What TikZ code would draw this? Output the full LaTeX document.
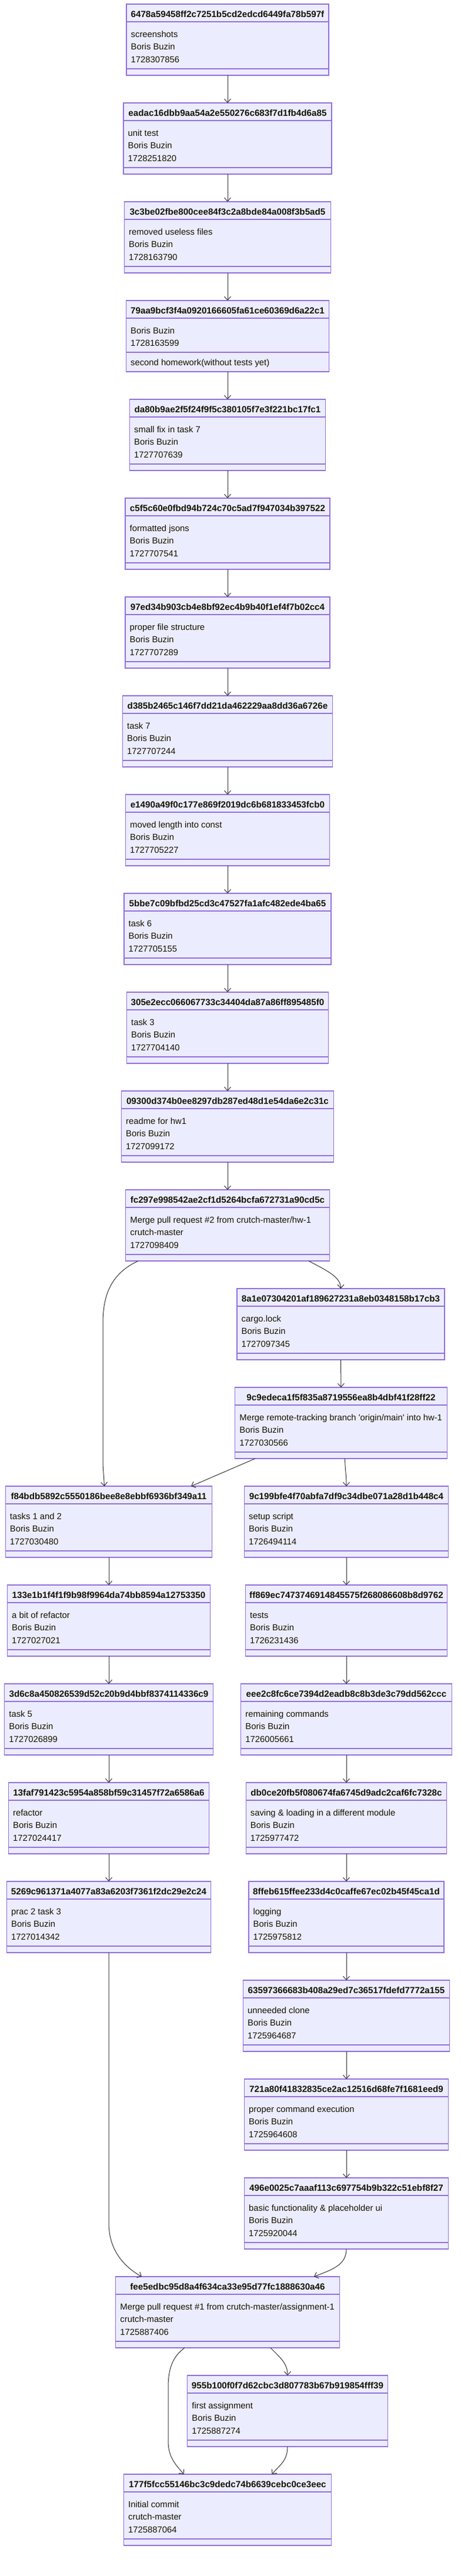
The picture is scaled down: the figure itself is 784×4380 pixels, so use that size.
\documentclass[tikz,border=0pt]{standalone}
\usepackage{fontspec}
\setmainfont{Liberation Sans}
\usetikzlibrary{arrows.meta,calc}
\definecolor{boxfill}{HTML}{ECECFF}
\definecolor{boxline}{HTML}{9370DB}
\definecolor{edgecol}{HTML}{333333}
\definecolor{txtcol}{HTML}{131300}
\tikzset{
  cbox/.style={rectangle, draw=boxline, fill=boxfill, line width=1.2pt, minimum height=121pt, inner sep=0pt, outer sep=0pt},
  cdiv/.style={draw=boxline, line width=1.2pt},
  ctitle/.style={anchor=base, inner sep=0pt, text=txtcol, font=\fontsize{15.2}{18}\selectfont\bfseries},
  cline/.style={anchor=base west, inner sep=0pt, text=txtcol, font=\fontsize{14.8}{18}\selectfont},
  edge/.style={draw=edgecol, line width=1pt, -{Straight Barb[length=6pt,width=11pt]}},
}
% name, center x, rank, width, title, line1, line2, line3
\newcommand{\commitbox}[8]{%
  \node[cbox, minimum width=#4pt] (#1) at ({#2},{67.5+168*#3}) {};
  \draw[cdiv] ([yshift=-30pt]#1.north west) -- ([yshift=-30pt]#1.north east);
  \draw[cdiv] ([yshift=-110pt]#1.north west) -- ([yshift=-110pt]#1.north east);
  \node[ctitle] (#1-t) at ([yshift=-22pt]#1.north) {#5};
  \node[cline] (#1-a) at ([xshift=7.5pt,yshift=-56pt]#1.north west) {#6};
  \node[cline] (#1-b) at ([xshift=7.5pt,yshift=-77.7pt]#1.north west) {#7};
  \node[cline] (#1-c) at ([xshift=7.5pt,yshift=-99.4pt]#1.north west) {#8};
}
% variant with a method compartment
\newcommand{\commitboxm}[8]{%
  \node[cbox, minimum width=#4pt] (#1) at ({#2},{67.5+168*#3}) {};
  \draw[cdiv] ([yshift=-30pt]#1.north west) -- ([yshift=-30pt]#1.north east);
  \draw[cdiv] ([yshift=-88pt]#1.north west) -- ([yshift=-88pt]#1.north east);
  \node[ctitle] (#1-t) at ([yshift=-22pt]#1.north) {#5};
  \node[cline] (#1-a) at ([xshift=7.5pt,yshift=-56pt]#1.north west) {#6};
  \node[cline] (#1-b) at ([xshift=7.5pt,yshift=-77.4pt]#1.north west) {#7};
  \node[cline] (#1-c) at ([xshift=7.5pt,yshift=-110.7pt]#1.north west) {#8};
}
\begin{document}
\begin{tikzpicture}[x=1pt,y=-1pt]
\useasboundingbox[fill=white] (0,0) rectangle (784,4380);

\commitbox{c6478}{387}{0}{344}{6478a59458ff2c7251b5cd2edcd6449fa78b597f}{screenshots}{Boris Buzin}{1728307856}
\commitbox{ceada}{387}{1}{354}{eadac16dbb9aa54a2e550276c683f7d1fb4d6a85}{unit test}{Boris Buzin}{1728251820}
\commitbox{c3c3b}{387}{2}{351}{3c3be02fbe800cee84f3c2a8bde84a008f3b5ad5}{removed useless files}{Boris Buzin}{1728163790}
\commitboxm{c79aa}{387}{3}{345}{79aa9bcf3f4a0920166605fa61ce60369d6a22c1}{Boris Buzin}{1728163599}{second homework(without tests yet)}
\commitbox{cda80}{387}{4}{333}{da80b9ae2f5f24f9f5c380105f7e3f221bc17fc1}{small fix in task 7}{Boris Buzin}{1727707639}
\commitbox{cc5f5}{387}{5}{348}{c5f5c60e0fbd94b724c70c5ad7f947034b397522}{formatted jsons}{Boris Buzin}{1727707541}
\commitbox{c97ed}{387}{6}{348}{97ed34b903cb4e8bf92ec4b9b40f1ef4f7b02cc4}{proper file structure}{Boris Buzin}{1727707289}
\commitbox{cd385}{387}{7}{357}{d385b2465c146f7dd21da462229aa8dd36a6726e}{task 7}{Boris Buzin}{1727707244}
\commitbox{ce149}{387}{8}{347}{e1490a49f0c177e869f2019dc6b681833453fcb0}{moved length into const}{Boris Buzin}{1727705227}
\commitbox{c5bbe}{387}{9}{352}{5bbe7c09bfbd25cd3c47527fa1afc482ede4ba65}{task 6}{Boris Buzin}{1727705155}
\commitbox{c305e}{387}{10}{343}{305e2ecc066067733c34404da87a86ff895485f0}{task 3}{Boris Buzin}{1727704140}
\commitbox{c0930}{387}{11}{361}{09300d374b0ee8297db287ed48d1e54da6e2c31c}{readme for hw1}{Boris Buzin}{1727099172}
\commitbox{cfc29}{387}{12}{346.5}{fc297e998542ae2cf1d5264bcfa672731a90cd5c}{Merge pull request \#2 from crutch-master/hw-1}{crutch-master}{1727098409}
\commitbox{c8a1e}{579.5}{13}{353}{8a1e07304201af189627231a8eb0348158b17cb3}{cargo.lock}{Boris Buzin}{1727097345}
\commitbox{c9c9e}{580}{14}{360.5}{9c9edeca1f5f835a8719556ea8b4dbf41f28ff22}{Merge remote-tracking branch \textquotesingle origin/main\textquotesingle{} into hw-1}{Boris Buzin}{1727030566}
\commitbox{cf84b}{185}{15}{351.5}{f84bdb5892c5550186bee8e8ebbf6936bf349a11}{tasks 1 and 2}{Boris Buzin}{1727030480}
\commitbox{c9c19}{589}{15}{347}{9c199bfe4f70abfa7df9c34dbe071a28d1b448c4}{setup script}{Boris Buzin}{1726494114}
\commitbox{c133e}{185}{16}{345}{133e1b1f4f1f9b98f9964da74bb8594a12753350}{a bit of refactor}{Boris Buzin}{1727027021}
\commitbox{cff86}{589}{16}{343}{ff869ec7473746914845575f268086608b8d9762}{tests}{Boris Buzin}{1726231436}
\commitbox{c3d6c}{185}{17}{354.5}{3d6c8a450826539d52c20b9d4bbf8374114336c9}{task 5}{Boris Buzin}{1727026899}
\commitbox{ceee2}{589}{17}{358.5}{eee2c8fc6ce7394d2eadb8c8b3de3c79dd562ccc}{remaining commands}{Boris Buzin}{1726005661}
\commitbox{c13fa}{185}{18}{341}{13faf791423c5954a858bf59c31457f72a6586a6}{refactor}{Boris Buzin}{1727024417}
\commitbox{cdb0c}{589}{18}{341.5}{db0ce20fb5f080674fa6745d9adc2caf6fc7328c}{saving \& loading in a different module}{Boris Buzin}{1725977472}
\commitbox{c5269}{185}{19}{347}{5269c961371a4077a83a6203f7361f2dc29e2c24}{prac 2 task 3}{Boris Buzin}{1727014342}
\commitbox{c8ffe}{589}{19}{332}{8ffeb615ffee233d4c0caffe67ec02b45f45ca1d}{logging}{Boris Buzin}{1725975812}
\commitbox{c6359}{589}{20}{351}{63597366683b408a29ed7c36517fdefd7772a155}{unneeded clone}{Boris Buzin}{1725964687}
\commitbox{c721a}{589}{21}{347}{721a80f41832835ce2ac12516d68fe7f1681eed9}{proper command execution}{Boris Buzin}{1725964608}
\commitbox{c496e}{589}{22}{347}{496e0025c7aaaf113c697754b9b322c51ebf8f27}{basic functionality \& placeholder ui}{Boris Buzin}{1725920044}
\commitbox{cfee5}{387}{23}{380.5}{fee5edbc95d8a4f634ca33e95d77fc1888630a46}{Merge pull request \#1 from crutch-master/assignment-1}{crutch-master}{1725887406}
\commitbox{c955b}{489}{24}{340.5}{955b100f0f7d62cbc3d807783b67b919854fff39}{first assignment}{Boris Buzin}{1725887274}
\commitbox{c177f}{387}{25}{353}{177f5fcc55146bc3c9dedc74b6639cebc0ce3eec}{Initial commit}{crutch-master}{1725887064}

% main column
\foreach \a/\b in {c6478/ceada, ceada/c3c3b, c3c3b/c79aa, c79aa/cda80, cda80/cc5f5, cc5f5/c97ed, c97ed/cd385, cd385/ce149, ce149/c5bbe, c5bbe/c305e, c305e/c0930, c0930/cfc29, c8a1e/c9c9e,
  cf84b/c133e, c133e/c3d6c, c3d6c/c13fa, c13fa/c5269,
  c9c19/cff86, cff86/ceee2, ceee2/cdb0c, cdb0c/c8ffe, c8ffe/c6359, c6359/c721a, c721a/c496e}
  \draw[edge] (\a.south) -- (\b.north);

% branch edges
\draw[edge] ([xshift=-152pt]cfc29.south) .. controls +(-48,22) and +(0,-45) .. (175,2250) -- (175,2490) -- ([xshift=-7.5pt]cf84b.north);
\draw[edge] ([xshift=138pt]cfc29.south) .. controls +(30,16) and +(0,-20) .. (c8a1e.north);
\draw[edge] ([xshift=-146pt]c9c9e.south) -- ([xshift=140pt]cf84b.north);
\draw[edge] ([xshift=6.5pt]c9c9e.south) .. controls +(0.5,20) and +(0,-20) .. (c9c19.north);

\draw[edge] (c5269.south) -- (185,3780) .. controls +(0,50) and +(-25,-14) .. ([xshift=-146pt]cfee5.north);
\draw[edge] (c496e.south) .. controls +(0,28) and +(30,-12) .. ([xshift=147pt]cfee5.north);

\draw[edge] ([xshift=-73pt]cfee5.south) .. controls +(-22,16) and +(0,-30) .. (286,4060) -- (286,4150) .. controls +(0,30) and +(-12,-15) .. ([xshift=-74.5pt]c177f.north);
\draw[edge] ([xshift=73pt]cfee5.south) .. controls +(18,18) and +(0,-20) .. (c955b.north);
\draw[edge] (c955b.south) .. controls +(0,25) and +(12,-15) .. ([xshift=75.5pt]c177f.north);
\end{tikzpicture}
\end{document}
